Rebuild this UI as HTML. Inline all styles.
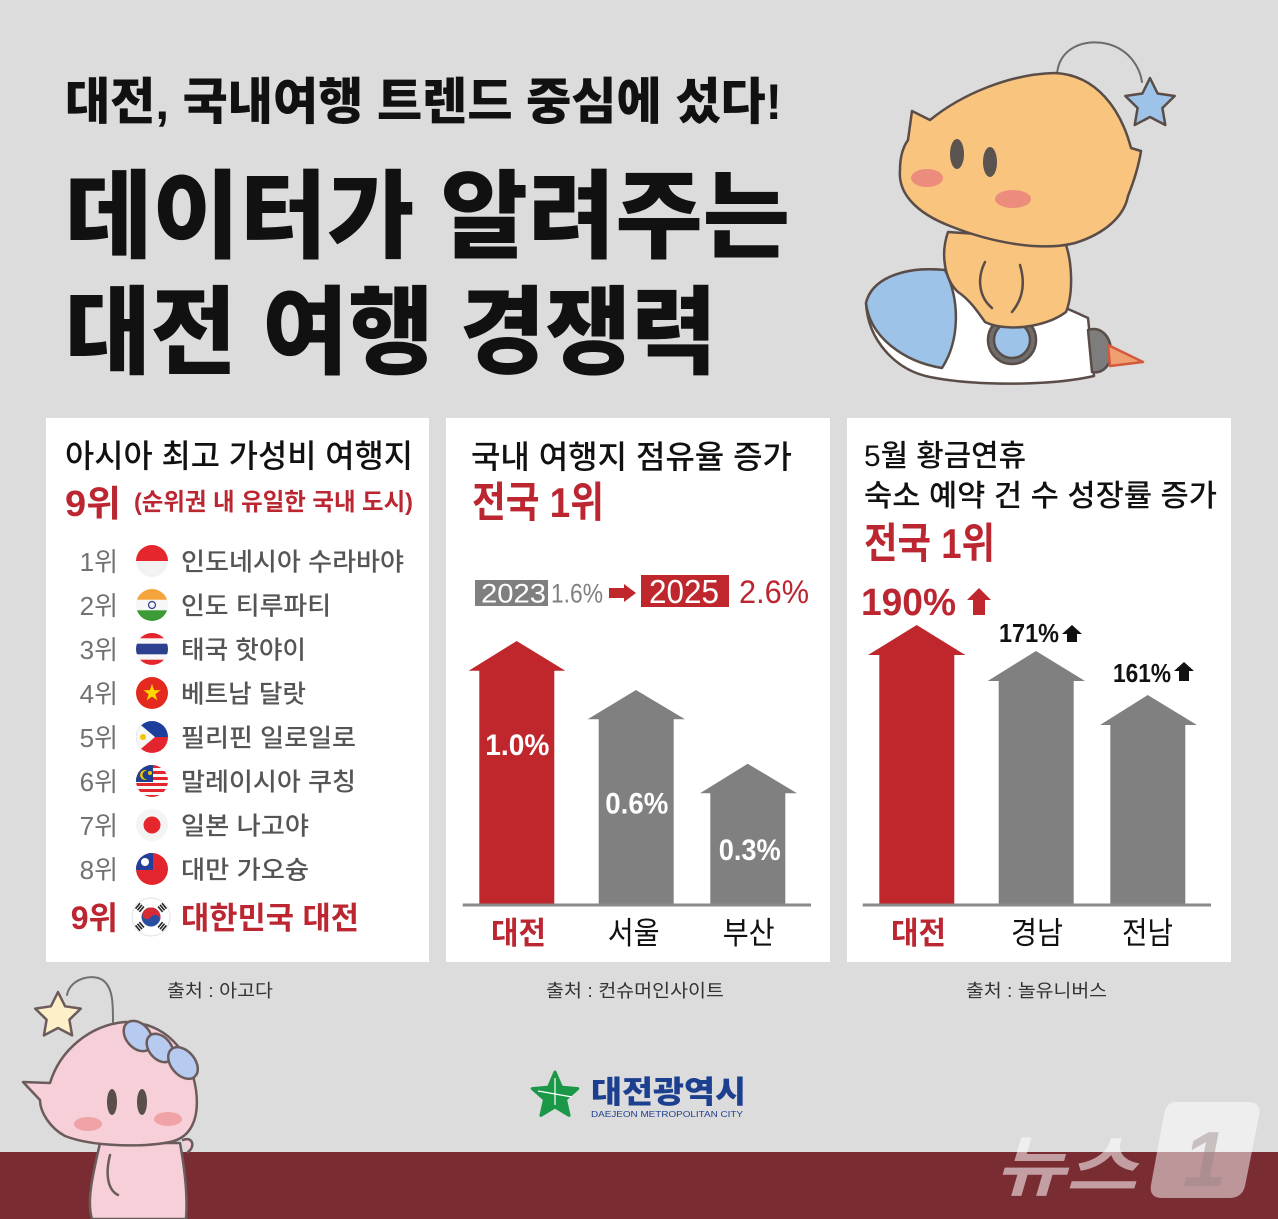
<!DOCTYPE html>
<html><head><meta charset="utf-8">
<style>
html,body{margin:0;padding:0;background:#dcdcdc;width:1278px;height:1219px;overflow:hidden;}
svg{display:block;}
text{font-family:"Liberation Sans","Noto Sans CJK KR",sans-serif;}
</style></head><body>
<svg width="1278" height="1219" viewBox="0 0 1278 1219" xmlns="http://www.w3.org/2000/svg">
<defs>
<clipPath id="fc"><circle cx="0" cy="0" r="16"/></clipPath>
</defs>
<rect width="1278" height="1219" fill="#dcdcdc"/>
<rect x="0" y="1152" width="1278" height="67" fill="#7a2c33"/>

<!-- Main title -->
<text x="65" y="119" font-size="50" font-weight="900" fill="#111" textLength="717" lengthAdjust="spacingAndGlyphs">대전, 국내여행 트렌드 중심에 섰다!</text>
<text x="65" y="250" font-size="96" font-weight="900" fill="#111" textLength="725" lengthAdjust="spacingAndGlyphs">데이터가 알려주는</text>
<text x="65" y="366" font-size="96" font-weight="900" fill="#111" textLength="652" lengthAdjust="spacingAndGlyphs">대전 여행 경쟁력</text>

<!-- Orange character -->
<g stroke="#5a4d48" stroke-width="2.5" stroke-linejoin="round" stroke-linecap="round">
<path d="M1057,75 C1058,48 1085,38 1108,44 C1130,50 1140,68 1142,82" fill="none" stroke="#6b6b6b" stroke-width="2"/>
<polygon points="1150,78 1157.6,93.5 1174.7,96 1162.4,108 1165.3,125 1150,117 1134.7,125 1137.6,108 1125.3,96 1142.4,93.5" fill="#9dc3e8"/>
<path d="M866,303 C872,278 905,266 945,270 C990,276 1040,296 1088,318 L1094,376 C1050,386 975,386 930,377 C895,370 868,340 866,303 Z" fill="#fff"/>
<path d="M866,303 C872,278 905,266 945,270 C960,300 960,340 942,368 C905,362 870,338 866,303 Z" fill="#9dc3e8"/>
<path d="M1088,330 C1100,326 1110,335 1111,350 C1112,365 1103,374 1092,372 Z" fill="#7d7d7d"/>
<path d="M1108,345 L1143,362 L1110,366 Z" fill="#f0a070" stroke="#d4593d"/>
<circle cx="1012" cy="340" r="24" fill="#6e6e6e"/>
<circle cx="1012" cy="340" r="18" fill="#9dc3e8"/>
<path d="M948,232 C940,255 945,280 958,292 C970,300 978,312 985,322 C1005,332 1045,328 1066,312 C1074,292 1072,258 1064,240 Z" fill="#f9c47d"/>
<path d="M985,262 C976,280 980,298 992,308" fill="none"/>
<path d="M1020,265 C1026,285 1022,300 1012,312" fill="none"/>
<path d="M908,140 L912,111 L930,120 C962,94 1010,74 1055,73 C1097,75 1121,110 1131,148 L1141,151 C1138,170 1132,186 1128,196 C1124,217 1104,234 1075,243 C1040,252 990,242 950,226 C914,212 898,192 900,170 C900,156 903,147 908,140 Z" fill="#f9c47d"/>
</g>
<ellipse cx="957" cy="154" rx="7" ry="15" fill="#5b5350"/>
<ellipse cx="990" cy="162" rx="7" ry="15" fill="#5b5350"/>
<ellipse cx="927" cy="178" rx="16" ry="9" fill="#eb8c7c"/>
<ellipse cx="1013" cy="199" rx="18" ry="9" fill="#eb8c7c"/>

<!-- Panels -->
<rect x="46" y="418" width="383" height="544" fill="#fff"/>
<rect x="446" y="418" width="384" height="544" fill="#fff"/>
<rect x="847" y="418" width="384" height="544" fill="#fff"/>

<!-- Left panel -->
<text x="65" y="467" font-size="32" font-weight="500" fill="#111" textLength="348" lengthAdjust="spacingAndGlyphs">아시아 최고 가성비 여행지</text>
<text x="65" y="516" font-size="36" font-weight="700" fill="#bb2631" textLength="56" lengthAdjust="spacingAndGlyphs">9위</text>
<text x="134" y="510" font-size="24" font-weight="700" fill="#bb2631" textLength="279" lengthAdjust="spacingAndGlyphs">(순위권 내 유일한 국내 도시)</text>

<g font-size="26" fill="#727272" text-anchor="end">
<text x="118" y="571">1위</text>
<text x="118" y="615">2위</text>
<text x="118" y="659">3위</text>
<text x="118" y="703">4위</text>
<text x="118" y="747">5위</text>
<text x="118" y="791">6위</text>
<text x="118" y="835">7위</text>
<text x="118" y="879">8위</text>
</g>
<g font-size="25" fill="#555" font-weight="500">
<text x="181" y="570.5" textLength="223" lengthAdjust="spacingAndGlyphs">인도네시아 수라바야</text>
<text x="181" y="614.5" textLength="150" lengthAdjust="spacingAndGlyphs">인도 티루파티</text>
<text x="181" y="658.5" textLength="125" lengthAdjust="spacingAndGlyphs">태국 핫야이</text>
<text x="181" y="702.5" textLength="125" lengthAdjust="spacingAndGlyphs">베트남 달랏</text>
<text x="181" y="746.5" textLength="175" lengthAdjust="spacingAndGlyphs">필리핀 일로일로</text>
<text x="181" y="790.5" textLength="175" lengthAdjust="spacingAndGlyphs">말레이시아 쿠칭</text>
<text x="181" y="834.5" textLength="128" lengthAdjust="spacingAndGlyphs">일본 나고야</text>
<text x="181" y="878.5" textLength="128" lengthAdjust="spacingAndGlyphs">대만 가오슝</text>
</g>

<!-- Flags -->
<g transform="translate(152,561)"><g clip-path="url(#fc)"><rect x="-16" y="-16" width="32" height="32" fill="#f2f2f2"/><rect x="-16" y="-16" width="32" height="16" fill="#e5262d"/></g></g>
<g transform="translate(152,605)"><g clip-path="url(#fc)"><rect x="-16" y="-16" width="32" height="32" fill="#f7f7f7"/><rect x="-16" y="-16" width="32" height="10.7" fill="#f4a43a"/><rect x="-16" y="5.3" width="32" height="10.7" fill="#3d9b35"/><circle r="3.5" fill="none" stroke="#2c3e8f" stroke-width="1.2"/></g></g>
<g transform="translate(152,649)"><g clip-path="url(#fc)"><rect x="-16" y="-16" width="32" height="32" fill="#f7f7f7"/><rect x="-16" y="-16" width="32" height="5.3" fill="#e5262d"/><rect x="-16" y="10.7" width="32" height="5.3" fill="#e5262d"/><rect x="-16" y="-5.3" width="32" height="10.6" fill="#2d3f8f"/></g></g>
<g transform="translate(152,693)"><circle r="16" fill="#e42a1e"/><polygon points="0,-9 2.1,-2.9 8.6,-2.8 3.4,1.1 5.3,7.3 0,3.6 -5.3,7.3 -3.4,1.1 -8.6,-2.8 -2.1,-2.9" fill="#fcd600"/></g>
<g transform="translate(152,737)"><g clip-path="url(#fc)"><rect x="-16" y="-16" width="32" height="16" fill="#1c3f9e"/><rect x="-16" y="0" width="32" height="16" fill="#e3262d"/><polygon points="-16,-16 3,0 -16,16" fill="#f7f7f7"/><circle cx="-9" cy="0" r="3" fill="#f5c400"/></g></g>
<g transform="translate(152,781)"><g clip-path="url(#fc)"><rect x="-16" y="-16" width="32" height="32" fill="#f7f7f7"/><rect x="-16" y="-16" width="32" height="3" fill="#e3262d"/><rect x="-16" y="-10" width="32" height="3" fill="#e3262d"/><rect x="-16" y="-4" width="32" height="3" fill="#e3262d"/><rect x="-16" y="2" width="32" height="3" fill="#e3262d"/><rect x="-16" y="8" width="32" height="3" fill="#e3262d"/><rect x="-16" y="14" width="32" height="3" fill="#e3262d"/><rect x="-16" y="-16" width="17" height="17" fill="#1f3f8f"/><circle cx="-7" cy="-6" r="5" fill="#f5c400"/><circle cx="-5" cy="-6" r="4.5" fill="#1f3f8f"/><circle cx="-2" cy="-8" r="2" fill="#f5c400"/></g></g>
<g transform="translate(152,825)"><circle r="16" fill="#f4f4f4"/><circle r="8.5" fill="#e5262d"/></g>
<g transform="translate(152,869)"><g clip-path="url(#fc)"><rect x="-16" y="-16" width="32" height="32" fill="#e3262d"/><rect x="-16" y="-16" width="17" height="17" fill="#233f9a"/><circle cx="-7" cy="-7" r="4" fill="#fff"/></g></g>

<!-- Korean flag -->
<g transform="translate(151,917)">
<circle r="19" fill="#fff" stroke="#e2e2e2"/>
<g transform="rotate(33.7)">
<circle r="9.5" fill="#2a4fa0"/>
<path d="M-9.5,0 A9.5,9.5 0 0 1 9.5,0 A4.75,4.75 0 0 0 0,0 A4.75,4.75 0 0 1 -9.5,0 Z" fill="#d42b35"/>
</g>
<g fill="#222">
<g transform="rotate(-50)"><rect x="-3.5" y="-18" width="7" height="1.6"/><rect x="-3.5" y="-15.5" width="7" height="1.6"/><rect x="-3.5" y="-13" width="7" height="1.6"/></g>
<g transform="rotate(50)"><rect x="-3.5" y="-18" width="7" height="1.6"/><rect x="-3.5" y="-15.5" width="7" height="1.6"/><rect x="-3.5" y="-13" width="7" height="1.6"/></g>
<g transform="rotate(130)"><rect x="-3.5" y="-18" width="7" height="1.6"/><rect x="-3.5" y="-15.5" width="7" height="1.6"/><rect x="-3.5" y="-13" width="7" height="1.6"/></g>
<g transform="rotate(-130)"><rect x="-3.5" y="-18" width="7" height="1.6"/><rect x="-3.5" y="-15.5" width="7" height="1.6"/><rect x="-3.5" y="-13" width="7" height="1.6"/></g>
</g>
</g>
<text x="118" y="929" font-size="32" font-weight="700" fill="#bb2631" text-anchor="end">9위</text>
<text x="181" y="929" font-size="31" font-weight="700" fill="#bb2631" textLength="178" lengthAdjust="spacingAndGlyphs">대한민국 대전</text>

<!-- Middle panel -->
<text x="471" y="468" font-size="32" font-weight="500" fill="#111" textLength="321" lengthAdjust="spacingAndGlyphs">국내 여행지 점유율 증가</text>
<text x="472" y="517" font-size="42" font-weight="700" fill="#bb2631" textLength="132" lengthAdjust="spacingAndGlyphs">전국 1위</text>

<rect x="475" y="580" width="73" height="26" fill="#7f7f7f"/>
<text x="481" y="602.5" font-size="27" fill="#fff" textLength="65" lengthAdjust="spacingAndGlyphs">2023</text>
<text x="551" y="602.5" font-size="27" fill="#7f7f7f" textLength="52" lengthAdjust="spacingAndGlyphs">1.6%</text>
<polygon points="609,588 624,588 624,584 636,593 624,602 624,598 609,598" fill="#c0272d"/>
<rect x="641" y="575" width="88" height="32" fill="#c0272d"/>
<text x="649" y="603" font-size="33" fill="#fff" textLength="70" lengthAdjust="spacingAndGlyphs">2025</text>
<text x="739" y="603" font-size="32" fill="#bb2631" textLength="70" lengthAdjust="spacingAndGlyphs">2.6%</text>

<polygon points="479.3,904 479.3,670.7 468.7,670.7 516.7,641 565.3,670.7 554.3,670.7 554.3,904" fill="#c0272d"/>
<polygon points="598.7,904 598.7,719.3 587.7,719.3 636,690 685,719.3 673.7,719.3 673.7,904" fill="#808080"/>
<polygon points="710.3,904 710.3,793.3 700,793.3 747.7,763.7 797,793.3 785.3,793.3 785.3,904" fill="#808080"/>
<line x1="462.7" y1="905" x2="811" y2="905" stroke="#8a8a8a" stroke-width="3"/>
<text x="485.3" y="755" font-size="30" font-weight="700" fill="#fff" textLength="64" lengthAdjust="spacingAndGlyphs">1.0%</text>
<text x="605.3" y="813.5" font-size="30" font-weight="700" fill="#fff" textLength="63" lengthAdjust="spacingAndGlyphs">0.6%</text>
<text x="718.7" y="860" font-size="30" font-weight="700" fill="#fff" textLength="62" lengthAdjust="spacingAndGlyphs">0.3%</text>
<text x="491" y="944" font-size="31" font-weight="700" fill="#bb2631" textLength="55" lengthAdjust="spacingAndGlyphs">대전</text>
<text x="607.7" y="944" font-size="31" fill="#111" textLength="52" lengthAdjust="spacingAndGlyphs">서울</text>
<text x="722.7" y="944" font-size="31" fill="#111" textLength="52" lengthAdjust="spacingAndGlyphs">부산</text>

<!-- Right panel -->
<text x="864" y="466" font-size="30" font-weight="500" fill="#111" textLength="162" lengthAdjust="spacingAndGlyphs">5월 황금연휴</text>
<text x="864" y="506" font-size="30" font-weight="500" fill="#111" textLength="353" lengthAdjust="spacingAndGlyphs">숙소 예약 건 수 성장률 증가</text>
<text x="864" y="558" font-size="42" font-weight="700" fill="#bb2631" textLength="131" lengthAdjust="spacingAndGlyphs">전국 1위</text>

<text x="861" y="615" font-size="38" font-weight="700" fill="#bb2631" textLength="95" lengthAdjust="spacingAndGlyphs">190%</text>
<polygon points="979,588 967,600 973,600 973,615 985,615 985,600 991,600" fill="#c0272d"/>
<text x="999" y="642" font-size="26" font-weight="700" fill="#111" textLength="60" lengthAdjust="spacingAndGlyphs">171%</text>
<polygon points="1072,625 1062,634 1067,634 1067,642 1077,642 1077,634 1082,634" fill="#111"/>
<text x="1113" y="682" font-size="26" font-weight="700" fill="#111" textLength="58" lengthAdjust="spacingAndGlyphs">161%</text>
<polygon points="1184,662 1174,671 1179,671 1179,681 1189,681 1189,671 1194,671" fill="#111"/>

<polygon points="879.3,904 879.3,655 868,655 916.7,625 965.3,655 954.3,655 954.3,904" fill="#c0272d"/>
<polygon points="998.7,904 998.7,681 987.7,681 1036,651 1085,681 1073.7,681 1073.7,904" fill="#808080"/>
<polygon points="1110.3,904 1110.3,725 1100,725 1147.7,695 1197,725 1185.3,725 1185.3,904" fill="#808080"/>
<line x1="862.7" y1="905" x2="1211" y2="905" stroke="#8a8a8a" stroke-width="3"/>
<text x="891" y="944" font-size="31" font-weight="700" fill="#bb2631" textLength="55" lengthAdjust="spacingAndGlyphs">대전</text>
<text x="1011" y="944" font-size="31" fill="#111" textLength="52" lengthAdjust="spacingAndGlyphs">경남</text>
<text x="1122" y="944" font-size="31" fill="#111" textLength="51" lengthAdjust="spacingAndGlyphs">전남</text>

<!-- Sources -->
<g font-size="18" fill="#333">
<text x="167" y="997" textLength="106" lengthAdjust="spacingAndGlyphs">출처 : 아고다</text>
<text x="546" y="997" textLength="178" lengthAdjust="spacingAndGlyphs">출처 : 컨슈머인사이트</text>
<text x="966" y="997" textLength="141" lengthAdjust="spacingAndGlyphs">출처 : 놀유니버스</text>
</g>

<!-- Logo -->
<polygon points="555,1072 561.5,1087.1 577.8,1088.6 565.5,1099.4 569.1,1115.4 555,1107 540.9,1115.4 544.5,1099.4 532.2,1088.6 548.5,1087.1" fill="#1a9848" stroke="#1a9848" stroke-width="3" stroke-linejoin="round"/>
<g stroke="#fff" stroke-width="1.2"><line x1="555" y1="1078" x2="555" y2="1105"/><line x1="538" y1="1091" x2="572" y2="1097"/></g>
<text x="591" y="1103" font-size="31" font-weight="900" fill="#1d3f8f" textLength="155" lengthAdjust="spacingAndGlyphs">대전광역시</text>
<text x="591" y="1117" font-size="8.5" fill="#1d3f8f" textLength="152" lengthAdjust="spacingAndGlyphs">DAEJEON METROPOLITAN CITY</text>

<!-- News1 watermark -->
<text x="995" y="1190" font-size="66" font-weight="700" font-style="italic" fill="#ffffff" fill-opacity="0.55" textLength="142" lengthAdjust="spacingAndGlyphs">뉴스</text>
<path d="M1175,1102 L1248,1102 Q1262,1102 1259,1116 L1245,1186 Q1242,1198 1229,1198 L1162,1198 Q1149,1198 1151,1185 L1164,1114 Q1167,1102 1175,1102 Z" fill="#ffffff" fill-opacity="0.5"/>
<text x="1183" y="1186" font-size="78" font-weight="700" font-style="italic" fill="#9a8585" fill-opacity="0.45">1</text>

<!-- Pink character -->
<g stroke="#6b5b5b" stroke-width="2.5" stroke-linejoin="round" stroke-linecap="round">
<path d="M67,995 C70,978 95,972 105,982 C113,990 113,1005 113,1022" fill="none" stroke="#707070" stroke-width="2"/>
<polygon points="58,992 65.1,1006.3 80.8,1008.6 69.4,1019.7 72.1,1035.4 58,1028 43.9,1035.4 46.6,1019.7 35.2,1008.6 50.9,1006.3" fill="#fdf0c8"/>
<path d="M100,1143 C94,1170 86,1200 92,1219 L186,1219 C188,1195 184,1165 180,1143 Z" fill="#f7cfd8"/>
<path d="M23,1082 L50,1083 C60,1050 90,1025 125,1022 C165,1022 190,1050 196,1090 C200,1120 190,1138 170,1142 C140,1148 90,1146 65,1136 C50,1128 40,1112 40,1100 Z" fill="#f7cfd8"/>
<path d="M183,1140 C192,1136 196,1146 188,1152" fill="#f7cfd8"/>
<path d="M110,1155 C105,1175 108,1190 118,1195" fill="none"/>
<ellipse cx="138" cy="1036" rx="12" ry="17" transform="rotate(-40 138 1036)" fill="#b6cbef"/>
<ellipse cx="160" cy="1048" rx="11" ry="16" transform="rotate(-40 160 1048)" fill="#b6cbef"/>
<ellipse cx="183" cy="1063" rx="12" ry="18" transform="rotate(-40 183 1063)" fill="#b6cbef"/>
</g>
<ellipse cx="112" cy="1102" rx="5" ry="13" fill="#5a4e4a"/>
<ellipse cx="142" cy="1102" rx="5" ry="13" fill="#5a4e4a"/>
<ellipse cx="88" cy="1124" rx="14" ry="7" fill="#f0a3a6"/>
<ellipse cx="168" cy="1119" rx="14" ry="7" fill="#f0a3a6"/>
</svg>
</body></html>
